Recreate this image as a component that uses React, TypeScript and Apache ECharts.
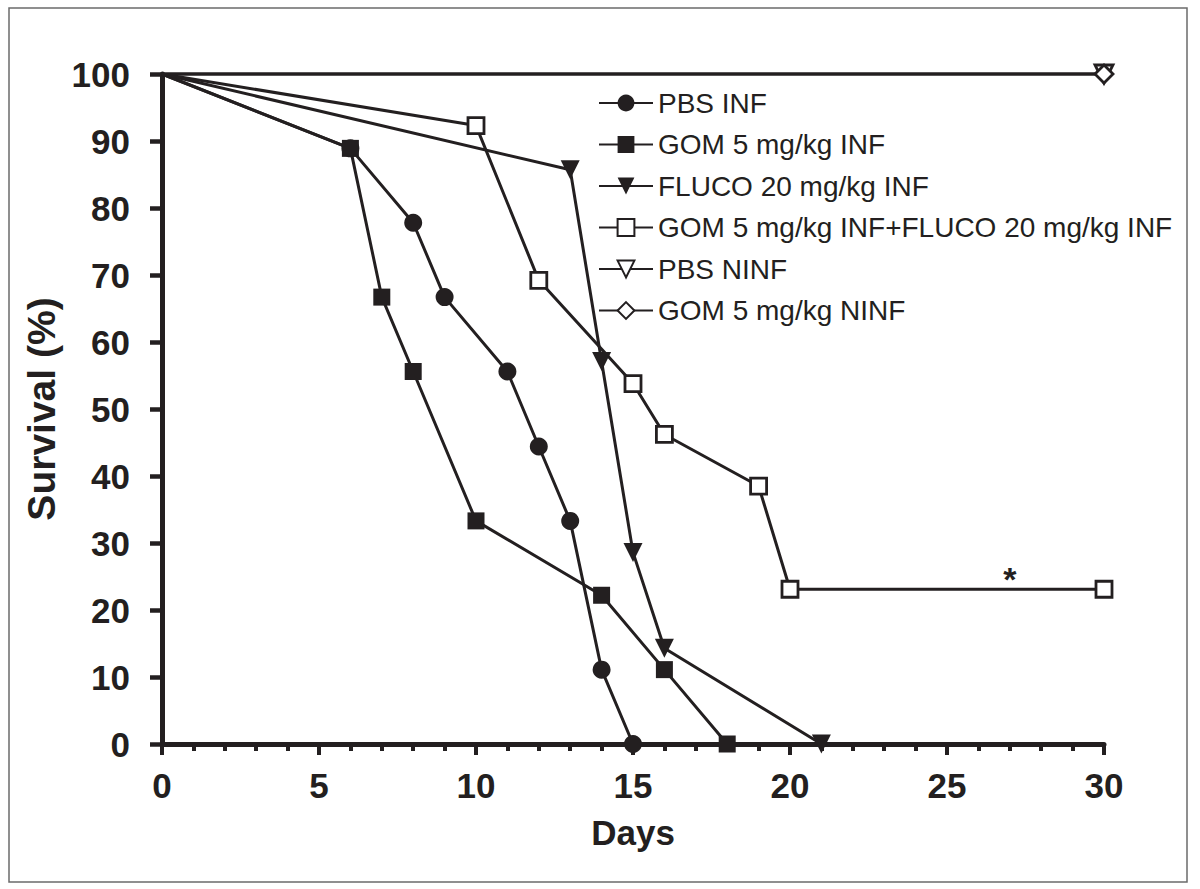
import React, { useEffect, useRef } from "react";
import * as echarts from "echarts";

// ---- data (days, survival %) ----
const pbsInfDays = [0, 6, 8, 9, 11, 12, 13, 14, 15];
const pbsInfSurv = [100, 88.9, 77.8, 66.7, 55.6, 44.4, 33.3, 11.1, 0];

const gomInfDays = [0, 6, 7, 8, 10, 14, 16, 18];
const gomInfSurv = [100, 88.9, 66.7, 55.6, 33.3, 22.2, 11.1, 0];

const flucoInfDays = [0, 13, 14, 15, 16, 21];
const flucoInfSurv = [100, 85.7, 57.1, 28.6, 14.3, 0];

const comboInfDays = [0, 10, 12, 15, 16, 19, 20, 30];
const comboInfSurv = [100, 92.3, 69.2, 53.8, 46.2, 38.5, 23.1, 23.1];

const pbsNinfDays = [0, 30];
const pbsNinfSurv = [100, 100];

const gomNinfDays = [0, 30];
const gomNinfSurv = [100, 100];

const seriesNames = [
  "PBS INF",
  "GOM 5 mg/kg INF",
  "FLUCO 20 mg/kg INF",
  "GOM 5 mg/kg INF+FLUCO 20 mg/kg INF",
  "PBS NINF",
  "GOM 5 mg/kg NINF",
];

const xTicks = { min: 0, max: 30, interval: 5 };
const yTicks = { min: 0, max: 100, interval: 10 };

const significance = { day: 27, surv: 23.1, mark: "*" };

const INK = "#231f20";
const FONT = "'Liberation Sans', Arial, Helvetica, sans-serif";

function pts(days: number[], surv: number[]) {
  return days.map((d, i) =>
    d === 0 ? { value: [d, surv[i]], symbol: "none" } : { value: [d, surv[i]] }
  );
}

function lineSeries(
  name: string,
  days: number[],
  surv: number[],
  symbol: string,
  size: number,
  filled: boolean,
  rotate = 0,
  extra: any = {}
) {
  return {
    name,
    type: "line",
    data: pts(days, surv),
    symbol,
    symbolSize: size,
    symbolRotate: rotate,
    showAllSymbol: true,
    clip: false,
    lineStyle: { color: INK, width: 3 },
    itemStyle: filled
      ? { color: INK, borderColor: INK, borderWidth: 0 }
      : { color: "#ffffff", borderColor: INK, borderWidth: 2.8 },
    emphasis: { disabled: true },
    ...extra,
  };
}

export default function App() {
  const ref = useRef<HTMLDivElement>(null);

  useEffect(() => {
    if (!ref.current) return;
    const chart = echarts.init(ref.current, undefined, { renderer: "svg" });
    chart.setOption({
      animation: false,
      backgroundColor: "#ffffff",
      textStyle: { fontFamily: FONT, color: INK },
      grid: { left: 162, right: 96, top: 74, bottom: 145 },
      graphic: [
        {
          type: "rect",
          shape: { x: 9, y: 8, width: 1178, height: 874 },
          style: { fill: "none", stroke: "#6b6b6b", lineWidth: 1.5 },
          silent: true,
          z: -1,
        },
      ],
      legend: {
        orient: "vertical",
        left: 598,
        top: 89,
        padding: 0,
        itemWidth: 54,
        itemHeight: 21,
        itemGap: 13.5,
        data: seriesNames,
        textStyle: { fontSize: 28, color: INK, fontFamily: FONT },
        selectedMode: false,
      },
      xAxis: {
        type: "value",
        min: xTicks.min,
        max: xTicks.max,
        interval: xTicks.interval,
        name: "Days",
        nameLocation: "middle",
        nameGap: 71,
        nameTextStyle: { fontSize: 35, fontWeight: "bold", color: INK, fontFamily: FONT },
        axisLine: { show: true, lineStyle: { color: INK, width: 5 } },
        axisTick: { show: true, length: 11, lineStyle: { color: INK, width: 4 } },
        minorTick: { show: true, splitNumber: 5, length: 7, lineStyle: { color: INK, width: 4 } },
        splitLine: { show: false },
        minorSplitLine: { show: false },
        axisLabel: { fontSize: 35, fontWeight: "bold", color: INK, margin: 24, fontFamily: FONT },
      },
      yAxis: {
        type: "value",
        min: yTicks.min,
        max: yTicks.max,
        interval: yTicks.interval,
        name: "Survival (%)",
        nameLocation: "middle",
        nameGap: 84,
        nameTextStyle: { fontSize: 39, fontWeight: "bold", color: INK, fontFamily: FONT },
        axisLine: { show: true, lineStyle: { color: INK, width: 5 } },
        axisTick: { show: true, length: 12, lineStyle: { color: INK, width: 4.5 } },
        splitLine: { show: false },
        axisLabel: { fontSize: 35, fontWeight: "bold", color: INK, margin: 32, fontFamily: FONT },
      },
      series: [
        lineSeries(seriesNames[0], pbsInfDays, pbsInfSurv, "circle", 18, true),
        lineSeries(seriesNames[1], gomInfDays, gomInfSurv, "rect", 17, true),
        lineSeries(seriesNames[2], flucoInfDays, flucoInfSurv, "triangle", 19, true, 180),
        lineSeries(seriesNames[3], comboInfDays, comboInfSurv, "rect", 16, false, 0, {
          markPoint: {
            symbol: "circle",
            symbolSize: 0,
            silent: true,
            data: [
              {
                coord: [significance.day, significance.surv],
                label: {
                  show: true,
                  formatter: significance.mark,
                  position: "inside",
                  offset: [0, -10],
                  fontSize: 34,
                  fontWeight: "bold",
                  color: INK,
                  fontFamily: FONT,
                },
              },
            ],
          },
        }),
        lineSeries(seriesNames[4], pbsNinfDays, pbsNinfSurv, "triangle", 18, false, 180),
        lineSeries(seriesNames[5], gomNinfDays, gomNinfSurv, "diamond", 18, false),
      ],
    });
    return () => chart.dispose();
  }, []);

  return (
    <div
      ref={ref}
      style={{ position: "absolute", left: 0, top: 0, width: 1200, height: 889, background: "#fff" }}
    />
  );
}
